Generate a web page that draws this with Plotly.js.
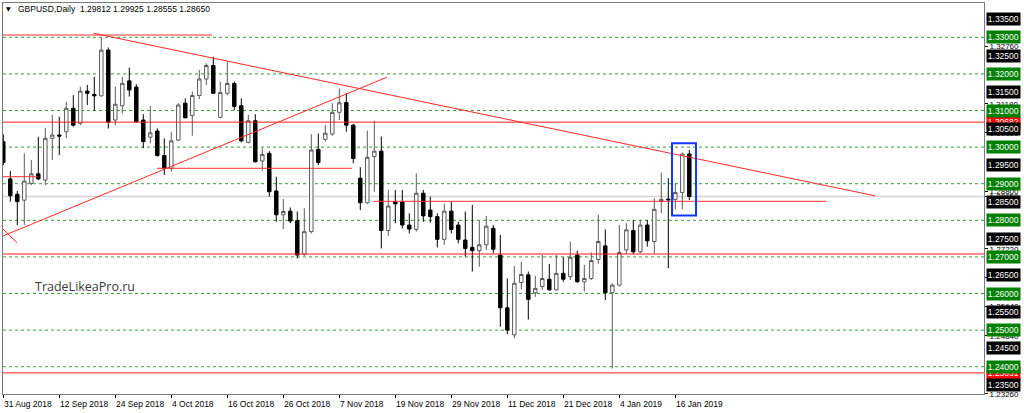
<!DOCTYPE html>
<html><head><meta charset="utf-8">
<script src="https://cdn.plot.ly/plotly-3.0.1.min.js"></script>
<style>html,body{margin:0;padding:0;background:#fff;overflow:hidden}#chart{width:1024px;height:413px}</style>
</head><body><div id="chart"></div>
<script>
const dates = ['31 Aug 2018','3 Sep 2018','4 Sep 2018','5 Sep 2018','6 Sep 2018','7 Sep 2018','10 Sep 2018','11 Sep 2018','12 Sep 2018','13 Sep 2018','14 Sep 2018','17 Sep 2018','18 Sep 2018','19 Sep 2018','20 Sep 2018','21 Sep 2018','24 Sep 2018','25 Sep 2018','26 Sep 2018','27 Sep 2018','28 Sep 2018','1 Oct 2018','2 Oct 2018','3 Oct 2018','4 Oct 2018','5 Oct 2018','8 Oct 2018','9 Oct 2018','10 Oct 2018','11 Oct 2018','12 Oct 2018','15 Oct 2018','16 Oct 2018','17 Oct 2018','18 Oct 2018','19 Oct 2018','22 Oct 2018','23 Oct 2018','24 Oct 2018','25 Oct 2018','26 Oct 2018','29 Oct 2018','30 Oct 2018','31 Oct 2018','1 Nov 2018','2 Nov 2018','5 Nov 2018','6 Nov 2018','7 Nov 2018','8 Nov 2018','9 Nov 2018','12 Nov 2018','13 Nov 2018','14 Nov 2018','15 Nov 2018','16 Nov 2018','19 Nov 2018','20 Nov 2018','21 Nov 2018','22 Nov 2018','23 Nov 2018','26 Nov 2018','27 Nov 2018','28 Nov 2018','29 Nov 2018','30 Nov 2018','3 Dec 2018','4 Dec 2018','5 Dec 2018','6 Dec 2018','7 Dec 2018','10 Dec 2018','11 Dec 2018','12 Dec 2018','13 Dec 2018','14 Dec 2018','17 Dec 2018','18 Dec 2018','19 Dec 2018','20 Dec 2018','21 Dec 2018','24 Dec 2018','26 Dec 2018','27 Dec 2018','28 Dec 2018','31 Dec 2018','2 Jan 2019','3 Jan 2019','4 Jan 2019','7 Jan 2019','8 Jan 2019','9 Jan 2019','10 Jan 2019','11 Jan 2019','14 Jan 2019','15 Jan 2019','16 Jan 2019','17 Jan 2019','18 Jan 2019'];

const opens = [1.3015,1.2913,1.2871,1.2855,1.2901,1.2927,1.2910,1.3024,1.3033,1.3042,
1.3106,1.3065,1.3153,1.3144,1.3140,1.3265,1.3074,1.3113,1.3181,1.3164,
1.3074,1.3027,1.3044,1.2977,1.2942,1.3019,1.3120,1.3086,1.3141,1.3186,
1.3223,1.3081,1.3147,1.3174,1.3113,1.3013,1.3072,1.2962,1.2983,1.2880,
1.2815,1.2825,1.2799,1.2707,1.2769,1.2994,1.3021,1.3036,1.3095,1.3122,
1.3060,1.2915,1.2848,1.2974,1.2989,1.2772,1.2851,1.2851,1.2787,1.2775,
1.2874,1.2828,1.2810,1.2748,1.2825,1.2787,1.2746,1.2726,1.2717,1.2733,
1.2778,1.2705,1.2561,1.2487,1.2630,1.2651,1.2602,1.2619,1.2639,1.2610,
1.2655,1.2646,1.2705,1.2632,1.2641,1.2693,1.2730,1.2602,1.2623,1.2719,
1.2772,1.2714,1.2787,1.2742,1.2851,1.2858,1.2857,1.2876,1.29812];
const highs = [1.3035,1.2935,1.2880,1.2983,1.2965,1.3028,1.3052,1.3088,1.3083,1.3124,
1.3142,1.3165,1.3170,1.3192,1.3299,1.3272,1.3165,1.3192,1.3217,1.3172,
1.3090,1.3113,1.3051,1.3024,1.3042,1.3120,1.3133,1.3152,1.3211,1.3229,
1.3247,1.3179,1.3233,1.3179,1.3133,1.3088,1.3090,1.2997,1.2989,1.2919,
1.2858,1.2835,1.2824,1.2833,1.3035,1.3037,1.3060,1.3120,1.3160,1.3147,
1.3063,1.2945,1.3045,1.3072,1.3029,1.2883,1.2883,1.2883,1.2819,1.2928,
1.2883,1.2865,1.2819,1.2846,1.2851,1.2796,1.2824,1.2842,1.2799,1.2812,
1.2787,1.2760,1.2641,1.2675,1.2687,1.2660,1.2648,1.2705,1.2681,1.2705,
1.2699,1.2742,1.2717,1.2678,1.2712,1.2815,1.2775,1.2628,1.2787,1.2792,
1.2801,1.2801,1.2801,1.2860,1.2930,1.2915,1.2901,1.2985,1.29925];
const lows = [1.2950,1.2851,1.2787,1.2787,1.2896,1.2910,1.2896,1.2965,1.2978,1.3024,
1.3056,1.3060,1.3115,1.3099,1.3138,1.3051,1.3060,1.3092,1.3138,1.3068,
1.2997,1.3010,1.2974,1.2924,1.2933,1.3017,1.3079,1.3031,1.3131,1.3170,
1.3147,1.3080,1.3142,1.3101,1.3013,1.3010,1.2958,1.2935,1.2865,1.2796,
1.2776,1.2792,1.2696,1.2703,1.2764,1.2951,1.3015,1.3031,1.3074,1.3042,
1.2956,1.2828,1.2845,1.2878,1.2723,1.2757,1.2792,1.2778,1.2764,1.2769,
1.2796,1.2794,1.2726,1.2733,1.2764,1.2737,1.2701,1.2660,1.2673,1.2719,
1.2710,1.2509,1.2489,1.2478,1.2611,1.2529,1.2591,1.2610,1.2608,1.2608,
1.2632,1.2637,1.2630,1.2605,1.2637,1.2681,1.2582,1.2395,1.2619,1.2708,
1.2708,1.2710,1.2728,1.2710,1.2819,1.2669,1.2830,1.2830,1.28555];
const closes = [1.2958,1.2867,1.2851,1.2907,1.2927,1.2913,1.3024,1.3033,1.3030,1.3106,
1.3060,1.3153,1.3147,1.3140,1.3265,1.3068,1.3117,1.3174,1.3156,1.3069,
1.3015,1.3039,1.2977,1.2942,1.3017,1.3115,1.3080,1.3141,1.3186,1.3223,
1.3147,1.3149,1.3174,1.3111,1.3017,1.3072,1.2960,1.2980,1.2878,1.2815,
1.2824,1.2798,1.2705,1.2769,1.2992,1.2958,1.3038,1.3095,1.3121,1.3060,
1.2969,1.2848,1.2972,1.2989,1.2772,1.2839,1.2845,1.2787,1.2776,1.2874,
1.2812,1.2810,1.2748,1.2825,1.2775,1.2748,1.2723,1.2717,1.2733,1.2784,
1.2721,1.2561,1.2500,1.2628,1.2652,1.2584,1.2614,1.2641,1.2610,1.2655,
1.2639,1.2699,1.2632,1.2641,1.2690,1.2742,1.2602,1.2623,1.2712,1.2774,
1.2714,1.2787,1.2744,1.2830,1.2857,1.2856,1.2876,1.2981,1.28650];

const symbolTitle = 'GBPUSD,Daily';
const lastBar = '1.29812 1.29925 1.28555 1.28650';
const watermark = 'TradeLikeaPro.ru';
const dateTickIdx = [0,8,16,24,32,40,48,56,64,72,80,88,96];
const gridLevels = [1.24,1.25,1.26,1.27,1.28,1.29,1.30,1.31,1.32,1.33];
const scaleTicks = [1.3276,1.3118,1.3039,1.2880,1.2865,1.2722,1.2643,1.2564,1.2484,1.2326];
const priceBoxes = [1.30682,1.23831,1.335,1.33,1.325,1.32,1.315,1.31,1.305,1.30,1.295,1.29,1.285,1.28,1.275,1.27,1.265,1.26,1.255,1.25,1.245,1.24,1.235];
const priceBoxColors = ['#ff0000','#ff0000','#000','#008000','#000','#008000','#000','#008000','#000','#008000','#000','#008000','#000','#008000','#000','#008000','#000','#008000','#000','#008000','#000','#008000','#000'];
const redLevels = [1.30682,1.27079,1.23831];
const redSegPrice = [1.33063,1.29191,1.29421,1.28519];
const redSegFrom = [-0.05,-0.05,21.96,52.9];
const redSegTo = [29.8,5.0,49.8,117.6];
const trendX0 = [12.9,-0.05,-0.05];
const trendY0 = [1.3311,1.27571,1.27762];
const trendX1 = [124.5,54.77,1.96];
const trendY1 = [1.2867,1.31907,1.27388];
const currentPrice = 1.28650;
const boxX = [95.53,98.96];
const boxY = [1.28131,1.30104];

const xIdx = dates.map((d,i)=>i);
const xRange = [-0.043,140.1];
const yRange = [1.232541,1.339372];

const shapes = [];
gridLevels.forEach(v=>shapes.push({type:'line',xref:'paper',x0:0,x1:1,yref:'y',y0:v,y1:v,layer:'below',line:{color:'#3a9a3a',width:1,dash:'3px,3px'}}));
shapes.push({type:'line',xref:'paper',x0:0,x1:1,yref:'y',y0:currentPrice,y1:currentPrice,layer:'below',line:{color:'#d4d4d4',width:1.5}});
redLevels.forEach(v=>shapes.push({type:'line',xref:'paper',x0:0,x1:1,yref:'y',y0:v,y1:v,layer:'above',line:{color:'#ff1a1a',width:1}}));
redSegPrice.forEach((v,k)=>shapes.push({type:'line',xref:'x',x0:redSegFrom[k],x1:redSegTo[k],yref:'y',y0:v,y1:v,layer:'above',line:{color:'#ff3030',width:1}}));
trendX0.forEach((v,k)=>shapes.push({type:'line',xref:'x',yref:'y',x0:v,y0:trendY0[k],x1:trendX1[k],y1:trendY1[k],layer:'above',line:{color:'#ff2a2a',width:1}}));
shapes.push({type:'rect',xref:'x',yref:'y',x0:boxX[0],x1:boxX[1],y0:boxY[0],y1:boxY[1],layer:'above',line:{color:'#1038ff',width:2},fillcolor:'rgba(0,0,0,0)'});

const ann = [];
dateTickIdx.forEach(i=>ann.push({xref:'x',x:i,yref:'paper',y:0,xanchor:'left',yanchor:'top',yshift:-3,xshift:-1,showarrow:false,text:dates[i],font:{family:'Liberation Sans',size:8.5,color:'#000'}}));
priceBoxes.forEach((v,k)=>ann.push({xref:'paper',x:1,xanchor:'left',xshift:2,yref:'y',y:v,yanchor:'middle',showarrow:false,text:v.toFixed(5),bgcolor:priceBoxColors[k],borderpad:0.8,font:{family:'Liberation Sans',size:8.5,color:'#fff'}}));
ann.push({xref:'paper',x:0.0051,yref:'paper',y:0.9847,xanchor:'center',yanchor:'middle',showarrow:false,text:'▼',font:{family:'DejaVu Sans',size:6,color:'#000'}});
ann.push({xref:'paper',x:0.01295,yref:'paper',y:0.9834,xanchor:'left',yanchor:'middle',showarrow:false,text:symbolTitle,font:{family:'Liberation Sans',size:8.5,color:'#000'}});
ann.push({xref:'paper',x:0.0761,yref:'paper',y:0.9834,xanchor:'left',yanchor:'middle',showarrow:false,text:lastBar,font:{family:'Liberation Sans',size:8.5,color:'#000'}});
ann.push({xref:'paper',x:0.0306,yref:'paper',y:0.2762,xanchor:'left',yanchor:'middle',showarrow:false,text:watermark,font:{family:'Open Sans',size:12.5,color:'#3a3a3a'}});

const trace = {
  type:'candlestick', x:xIdx, open:opens, high:highs, low:lows, close:closes,
  increasing:{line:{color:'#5a5a5a',width:1},fillcolor:'#ffffff'},
  decreasing:{line:{color:'#000000',width:1},fillcolor:'#000000'},
  whiskerwidth:0, hoverinfo:'skip', showlegend:false
};

const layout = {
  width:1024,height:413,
  margin:{l:3,r:40,t:3,b:19,pad:0},
  paper_bgcolor:'#ffffff',plot_bgcolor:'#ffffff',
  showlegend:false, boxgap:0.3,
  xaxis:{type:'linear',range:xRange,rangeslider:{visible:false},showgrid:false,zeroline:false,
    tickmode:'array',tickvals:dateTickIdx,ticktext:dateTickIdx.map(()=>''),ticks:'outside',ticklen:3,tickcolor:'#000',
    showline:true,mirror:true,linecolor:'#7a7a7a',linewidth:1,fixedrange:true},
  yaxis:{side:'right',range:yRange,showgrid:false,zeroline:false,
    tickmode:'array',tickvals:scaleTicks,ticktext:scaleTicks.map(v=>v.toFixed(5)),ticks:'outside',ticklen:3,tickcolor:'#000',
    tickfont:{family:'Liberation Sans',size:8,color:'#000'},
    showline:true,mirror:true,linecolor:'#7a7a7a',linewidth:1,fixedrange:true},
  shapes:shapes, annotations:ann
};
Plotly.newPlot('chart',[trace],layout,{staticPlot:true,displayModeBar:false});
</script></body></html>
